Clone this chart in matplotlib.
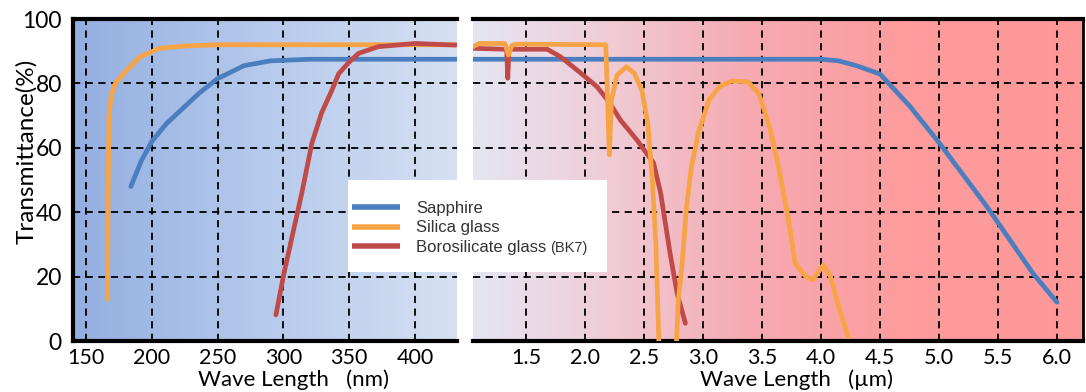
import numpy as np
import matplotlib
matplotlib.use("Agg")
import matplotlib.pyplot as plt
from matplotlib.patches import Rectangle
from matplotlib.colors import LinearSegmentedColormap

# ---------------- data ----------------
# UV panel (nm)
sapphire_nm_x = [184, 192, 200, 211, 236, 250, 270, 290, 320, 432]
sapphire_nm_y = [48, 56, 62, 67.5, 77, 81.5, 85.5, 87, 87.5, 87.5]

silica_nm_x = [166.2, 166.7, 167.4, 169, 171, 173, 181, 191, 206, 224, 250, 432]
silica_nm_y = [13, 45, 70, 76, 79, 80.5, 84.2, 88.3, 90.9, 91.6, 92, 92]

bk7_nm_x = [294.3, 300.3, 311.6, 314, 321.7, 329, 337, 342, 349, 357, 372, 400, 431]
bk7_nm_y = [8.1, 20.8, 41.6, 46, 61.5, 70.8, 78, 83, 86.2, 89.3, 91.4, 92.4, 91.9]

# IR panel (um)
sapphire_um_x = [1.05, 4.0, 4.15, 4.3, 4.5, 4.75, 5.0, 5.4, 5.8, 6.0]
sapphire_um_y = [87.5, 87.5, 87, 85.5, 82.9, 73, 61.6, 42, 20.8, 12]

silica_um_x = [1.05, 1.1, 1.32, 1.35, 1.38, 1.42, 2.175, 2.195, 2.205, 2.225, 2.27, 2.35,
               2.42, 2.48, 2.53, 2.57, 2.60, 2.625, 2.70, 2.775, 2.79, 2.82, 2.86, 2.90,
               2.96, 3.05, 3.14, 3.24, 3.38, 3.47, 3.51, 3.57, 3.64, 3.72, 3.78, 3.87,
               3.93, 4.02, 4.08, 4.15, 4.23]
silica_um_y = [91.4, 92.4, 92.4, 88.8, 91.8, 92.2, 92.0, 70, 57.8, 75, 82.5, 85.2,
               83, 78, 68, 50, 30, 0, np.nan, 0, 12.7, 23, 41.7, 54,
               64.6, 74.8, 79, 80.7, 80.5, 77, 72.7, 65.5, 54, 38.5, 24.2, 20,
               19, 23.6, 20, 10.6, 1.3]

bk7_um_x = [1.05, 1.335, 1.345, 1.355, 1.68, 1.79, 1.95, 2.10, 2.21, 2.30, 2.44,
            2.58, 2.64, 2.72, 2.78, 2.85]
bk7_um_y = [90.9, 90.6, 81.6, 90.6, 90.6, 88.3, 83.6, 79, 73.9, 68.6, 62.4,
            55.3, 46, 27.3, 14.8, 5.5]

nm_ticks = [150, 200, 250, 300, 350, 400]
um_ticks = [1.5, 2.0, 2.5, 3.0, 3.5, 4.0, 4.5, 5.0, 5.5, 6.0]
y_ticks = [0, 20, 40, 60, 80, 100]

labels = ["Sapphire", "Silica glass", "Borosilicate glass"]
c_blue = "#4a7ebf"
c_orange = "#f7a446"
c_red = "#c04a48"

# ---------------- figure ----------------
W, H = 1086, 392
fig = plt.figure(figsize=(W / 100, H / 100), dpi=100)
tick_font = ["Lato", "DejaVu Sans"]

def fx(px):
    return px / W

def fy(py):
    return 1 - py / H

axL = fig.add_axes([fx(73), fy(341), fx(457 - 73), fy(19) - fy(341)])
axR = fig.add_axes([fx(473), fy(341), fx(1083 - 473), fy(19) - fy(341)])

def gradient(ax, stops):
    cmap = LinearSegmentedColormap.from_list("g", stops)
    grad = np.linspace(0, 1, 512)[None, :]
    ax.imshow(grad, cmap=cmap, extent=[0, 1, 0, 1], transform=ax.transAxes,
              aspect="auto", zorder=0, interpolation="bilinear")

gradient(axL, [(0.0, "#93aee0"), (0.5, "#b6caec"), (1.0, "#d6e0f2")])
gradient(axR, [(0.0, "#e4e6f2"), (0.22, "#f0ccd6"), (0.45, "#f6aab2"),
               (0.70, "#fd9c9e"), (1.0, "#ff9898")])

lw = 3.4
kw = dict(solid_capstyle="round", solid_joinstyle="round")
l1, = axL.plot(sapphire_nm_x, sapphire_nm_y, color=c_blue, lw=lw, zorder=3, **kw)
l2, = axL.plot(silica_nm_x, silica_nm_y, color=c_orange, lw=lw, zorder=4, **kw)
l3, = axL.plot(bk7_nm_x, bk7_nm_y, color=c_red, lw=lw, zorder=5, **kw)
axR.plot(sapphire_um_x, sapphire_um_y, color=c_blue, lw=lw, zorder=3, **kw)
axR.plot(bk7_um_x, bk7_um_y, color=c_red, lw=lw, zorder=4, **kw)
axR.plot(silica_um_x, silica_um_y, color=c_orange, lw=lw, zorder=5, **kw)

axL.set_xlim(140, 432)
axR.set_xlim(1.05, 6.22)
for ax in (axL, axR):
    ax.set_ylim(0, 100)
    ax.set_yticks(y_ticks)
    ax.grid(True, color="black", linestyle=(0, (4, 3)), linewidth=1.3)
    ax.tick_params(length=0, labelsize=15.5)
    ax.tick_params(axis="x", pad=5)
    ax.spines["top"].set_linewidth(3)
    ax.spines["bottom"].set_linewidth(3)

axL.set_xticks(nm_ticks)
axL.set_xticklabels([str(t) for t in nm_ticks], family=tick_font)
axR.set_xticks(um_ticks)
axR.set_xticklabels([f"{t:.1f}" for t in um_ticks], family=tick_font)
axL.set_yticklabels([str(t) for t in y_ticks], family=tick_font)
axR.tick_params(labelleft=False)
axL.tick_params(axis="y", pad=8, labelsize=16.5)

axL.spines["left"].set_linewidth(3)
axL.spines["right"].set_visible(False)
axR.spines["left"].set_visible(False)
axR.spines["right"].set_linewidth(2)

axL.set_ylabel("Transmittance(%)", fontsize=17.5, family=tick_font)
axL.yaxis.set_label_coords((37 - 73) / 384, (341 - 151) / 322)
axL.set_xlabel("Wave Length   (nm)", fontsize=16, family=tick_font, va="top")
axL.xaxis.set_label_coords((293 - 73) / 384, (341 - 369) / 322)
axR.set_xlabel("Wave Length   (\u00b5m)", fontsize=16, family=tick_font, va="top")
axR.xaxis.set_label_coords((797 - 473) / 610, (341 - 369) / 322)

# legend box
box = Rectangle((fx(348), fy(272)), fx(607 - 348), fy(180) - fy(272),
                transform=fig.transFigure, facecolor="white", edgecolor="none",
                zorder=10)
fig.add_artist(box)
leg = fig.legend([l1, l2, l3], labels, loc="center left",
                 bbox_to_anchor=(fx(352), fy(228)), frameon=False,
                 prop={"family": ["Liberation Sans", "DejaVu Sans"], "size": 12},
                 handlelength=2.9, handletextpad=0.95, labelspacing=0.28,
                 borderpad=0, borderaxespad=0)
leg.set_zorder(11)
for t in leg.get_texts():
    t.set_color("#333333")
for h in leg.legend_handles:
    h.set_linewidth(4)
    h.set_solid_capstyle("butt")

fig.canvas.draw()
bb = leg.get_texts()[2].get_window_extent()
fig.text((bb.x1 + 4) / W, (bb.y0 + bb.y1) / 2 / H, "(BK7)", fontsize=10.5,
         family=["Liberation Sans", "DejaVu Sans"], color="#333333",
         va="center", ha="left", zorder=12)

fig.savefig("out.png", dpi=100)
